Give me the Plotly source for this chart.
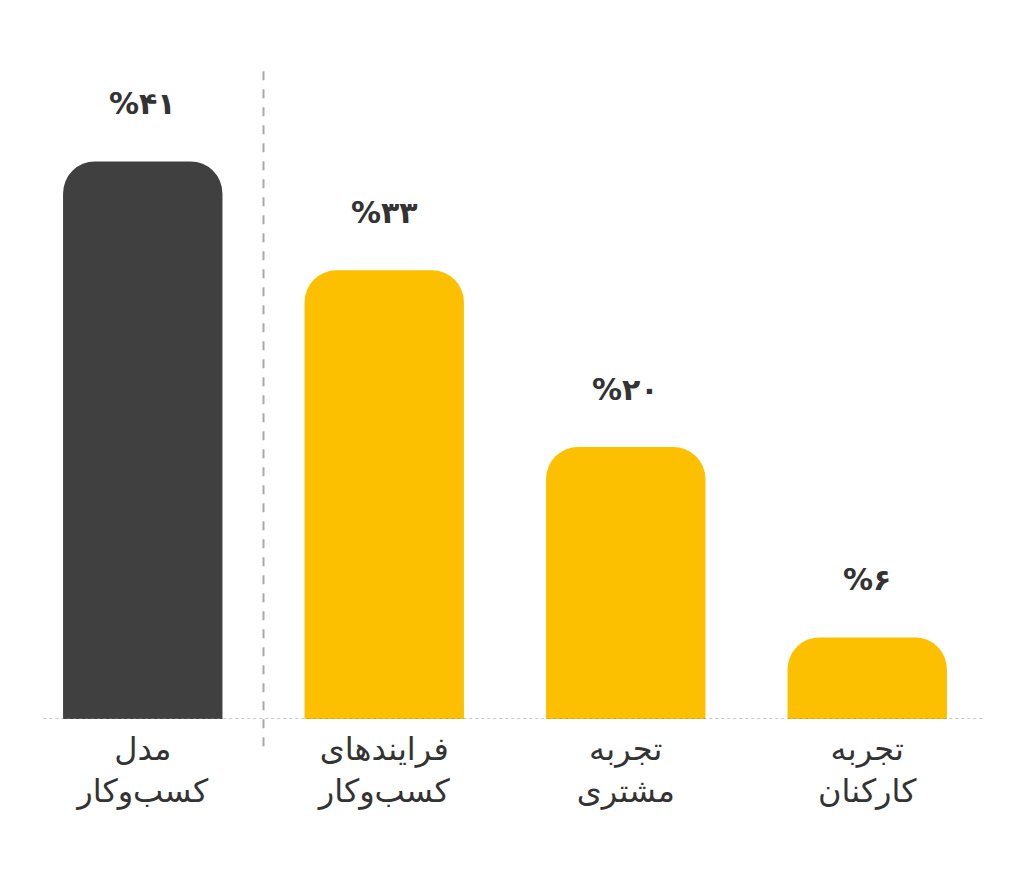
import plotly.graph_objects as go

# chart data
categories = ["مدل<br>کسب‌وکار", "فرایندهای<br>کسب‌وکار", "تجربه<br>مشتری", "تجربه<br>کارکنان"]
values = [41, 33, 20, 6]
bar_colors = ["#404040", "#FCC000", "#FCC000", "#FCC000"]

FA_DIGITS = str.maketrans("0123456789", "۰۱۲۳۴۵۶۷۸۹")
FONT = "DejaVu Sans"


def fa_percent(v: int) -> str:
    return "%" + str(v).translate(FA_DIGITS)


x_pos = list(range(len(categories)))

fig = go.Figure()
fig.add_trace(go.Bar(
    x=x_pos,
    y=values,
    width=0.66,
    marker=dict(color=bar_colors, cornerradius=32, line=dict(width=0)),
    hoverinfo="skip",
))

# value labels above bars
for x, v in zip(x_pos, values):
    fig.add_annotation(
        x=x, y=v, text=f"<b>{fa_percent(v)}</b>",
        showarrow=False, yanchor="bottom", yshift=38,
        font=dict(family=FONT, size=30, color="#333333"),
    )

# dotted baseline
fig.add_shape(type="line", xref="paper", yref="y", x0=0.022, x1=0.995, y0=0, y1=0,
              line=dict(color="#8c8c8c", width=1, dash="dot"))
# dashed separator between first bar and the rest (runs past the baseline)
fig.add_shape(type="line", xref="paper", yref="paper", x0=0.25, x1=0.25, y0=-0.04, y1=0.955,
              line=dict(color="#a8a8a8", width=2, dash="dash"))

fig.update_layout(
    width=1024,
    height=881,
    margin=dict(l=14, r=44, t=31, b=170),
    paper_bgcolor="white",
    plot_bgcolor="white",
    showlegend=False,
    bargap=0.34,
)
fig.update_xaxes(
    range=[-0.5, 3.5],
    tickmode="array", tickvals=x_pos, ticktext=categories,
    tickfont=dict(family=FONT, size=32, color="#333333"),
    showgrid=False, zeroline=False, showline=False, ticks="",
    ticklabelstandoff=8,
)
fig.update_yaxes(range=[0, 50], visible=False, showgrid=False, zeroline=False)

fig.write_html("out.html")
